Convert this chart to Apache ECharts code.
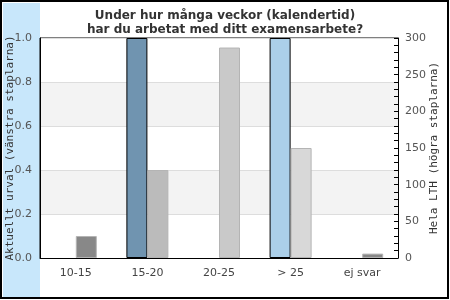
<!DOCTYPE html>
<html>
<head>
<meta charset="utf-8">
<script src="https://cdn.jsdelivr.net/npm/echarts@6/dist/echarts.min.js"></script>
<style>
  html, body { margin: 0; padding: 0; background: #fff; }
  #chart { width: 450px; height: 300px; }
</style>
</head>
<body>
<div id="chart"></div>
<script>
// kategorier och värden
var categories = ['10-15', '15-20', '20-25', '> 25', 'ej svar'];
var urval = [0, 1.0, 0, 1.0, 0];              // vänstra staplarna (andel)
var helaLth = [30, 120, 287, 150, 6];        // högra staplarna (antal)
var urvalColors = ['#7094b0', '#7094b0', '#7094b0', '#abcfe9', '#7094b0'];
var lthColors = ['#888888', '#bbbbbb', '#c9c9c9', '#d8d8d8', '#888888'];

var chart = echarts.init(document.getElementById('chart'));

var option = {
  animation: false,
  textStyle: { fontFamily: 'DejaVu Sans' },
  graphic: [
    {
      type: 'rect', z: -10, silent: true,
      shape: { x: 3, y: 3, width: 37, height: 294 },
      style: { fill: '#c8e7fb' }
    },
    {
      type: 'rect', z: 100, silent: true,
      shape: { x: 1, y: 1, width: 447, height: 297 },
      style: { fill: 'none', stroke: '#000', lineWidth: 2 }
    }
  ],
  title: {
    text: 'Under hur många veckor (kalendertid)\nhar du arbetat med ditt examensarbete?',
    left: 'center',
    top: 4,
    textStyle: {
      fontFamily: 'DejaVu Sans',
      fontSize: 12,
      fontWeight: 'bold',
      color: '#333',
      lineHeight: 14
    }
  },
  grid: {
    left: 40, right: 52, top: 38, bottom: 42,
    outerBoundsMode: 'none',
    containLabel: false,
    show: true, borderColor: '#000', borderWidth: 1,
    backgroundColor: 'transparent'
  },
  xAxis: {
    type: 'category',
    data: categories,
    axisLine: { lineStyle: { color: '#000', width: 1 } },
    axisTick: { show: false },
    axisLabel: { color: '#444', fontSize: 11, margin: 10 }
  },
  yAxis: [
    {
      type: 'value',
      min: 0, max: 1, interval: 0.2,
      name: 'Aktuellt urval (vänstra staplarna)',
      nameLocation: 'middle',
      nameGap: 24,
      nameMoveOverlap: false,
      nameTextStyle: { fontFamily: 'DejaVu Sans Mono', fontSize: 11, color: '#333' },
      axisLine: { show: true, lineStyle: { color: '#000' } },
      axisTick: { show: false },
      axisLabel: {
        color: '#555', fontSize: 11, margin: 8,
        formatter: function (v) { return v.toFixed(1); }
      },
      splitLine: { show: true, lineStyle: { color: '#dddddd' } },
      splitArea: { show: true, areaStyle: { color: ['#ffffff', '#f3f3f3'] } }
    },
    {
      type: 'value',
      min: 0, max: 300, interval: 50,
      name: 'Hela LTH (högra staplarna)',
      nameLocation: 'middle',
      nameGap: 31,
      nameMoveOverlap: false,
      nameTextStyle: { fontFamily: 'DejaVu Sans Mono', fontSize: 11, color: '#333' },
      axisLine: { show: true, lineStyle: { color: '#000' } },
      axisTick: { show: true, inside: true, length: 4, lineStyle: { color: '#000' } },
      minorTick: { show: true, splitNumber: 5, length: 4, lineStyle: { color: '#000' } },
      axisLabel: { color: '#555', fontSize: 11, margin: 7 },
      splitLine: { show: false }
    }
  ],
  series: [
    {
      name: 'Aktuellt urval',
      type: 'bar',
      yAxisIndex: 0,
      barWidth: 21,
      barGap: '0%',
      data: urval.map(function (v, i) {
        return { value: v, itemStyle: { color: urvalColors[i], borderWidth: v ? 1 : 0 } };
      }),
      itemStyle: { borderColor: '#000', borderWidth: 1 }
    },
    {
      name: 'Hela LTH',
      type: 'bar',
      yAxisIndex: 1,
      barWidth: 21,
      barGap: '0%',
      data: helaLth.map(function (v, i) {
        return { value: v, itemStyle: { color: lthColors[i] } };
      }),
      itemStyle: { borderColor: '#b4b4b4', borderWidth: 1 }
    }
  ]
};

chart.setOption(option);
</script>
</body>
</html>
